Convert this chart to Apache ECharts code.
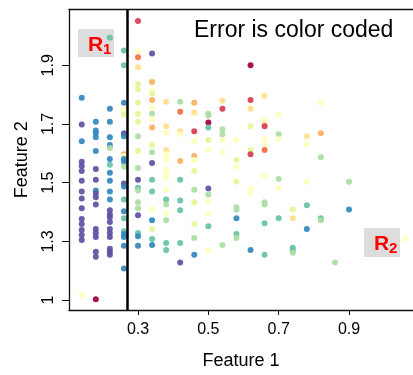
<!DOCTYPE html>
<html>
<head>
<meta charset="utf-8">
<script src="https://cdn.jsdelivr.net/npm/echarts@6/dist/echarts.min.js"></script>
<style>
  html, body { margin: 0; padding: 0; background: #fff; }
  #chart { width: 413px; height: 375px; }
</style>
</head>
<body>
<div id="chart"></div>
<script>
// Samples: Feature 1 (x), Feature 2 (y) and the error level (0 = lowest … 10 = highest)
const featureOne = [
  0.14,0.14,0.14,0.14,0.14,0.14,0.14,0.14,0.14,0.14,0.14,0.14,0.14,0.14,0.14,0.14,
  0.18,0.18,0.18,0.18,0.18,0.18,0.18,0.18,0.18,0.18,0.18,0.18,0.18,0.18,0.18,0.18,0.18,
  0.22,0.22,0.22,0.22,0.22,0.22,0.22,0.22,0.22,0.22,0.22,0.22,0.22,0.22,0.22,0.22,0.22,0.22,0.22,0.22,0.22,0.22,
  0.26,0.26,0.26,0.26,0.26,0.26,0.26,0.26,0.26,0.26,0.26,0.26,0.26,0.26,0.26,0.26,0.26,0.26,0.26,0.26,0.26,0.26,
  0.30,0.30,0.30,0.30,0.30,0.30,0.30,0.30,0.30,0.30,0.30,0.30,0.30,0.30,0.30,0.30,0.30,0.30,0.30,0.30,0.30,
  0.34,0.34,0.34,0.34,0.34,0.34,0.34,0.34,0.34,0.34,0.34,0.34,0.34,0.34,0.34,0.34,0.34,0.34,0.34,
  0.38,0.38,0.38,0.38,0.38,0.38,0.38,0.38,0.38,0.38,0.38,0.38,0.38,0.38,0.38,0.38,
  0.42,0.42,0.42,0.42,0.42,0.42,0.42,0.42,0.42,0.42,
  0.46,0.46,0.46,0.46,0.46,0.46,0.46,0.46,0.46,0.46,0.46,0.46,
  0.50,0.50,0.50,0.50,0.50,0.50,0.50,0.50,0.50,0.50,0.50,0.50,
  0.54,0.54,0.54,0.54,0.54,0.54,0.54,
  0.58,0.58,0.58,0.58,0.58,0.58,0.58,0.58,0.58,
  0.62,0.62,0.62,0.62,0.62,0.62,0.62,0.62,0.62,
  0.66,0.66,0.66,0.66,0.66,0.66,0.66,0.66,0.66,0.66,0.66,0.66,
  0.70,0.70,0.70,0.70,0.70,0.70,
  0.74,0.74,0.74,0.74,0.74,
  0.78,0.78,0.78,0.78,0.78,
  0.82,0.82,0.82,0.82,0.82,
  0.86,
  0.90,0.90,
  1.06
];
const featureTwo = [
  1.789,1.698,1.641,1.571,1.557,1.540,1.507,1.470,1.446,1.413,1.376,1.359,1.339,1.322,1.305,1.117,
  1.708,1.678,1.668,1.655,1.608,1.547,1.510,1.473,1.463,1.450,1.426,1.342,1.329,1.315,1.265,1.248,1.103,
  1.994,1.752,1.708,1.655,1.628,1.618,1.581,1.561,1.534,1.507,1.470,1.443,1.406,1.392,1.382,1.366,1.342,1.329,1.315,1.275,1.265,1.255,
  1.950,1.900,1.772,1.749,1.732,1.668,1.658,1.597,1.591,1.581,1.571,1.554,1.497,1.487,1.443,1.403,1.379,1.335,1.325,1.315,1.285,1.208,
  2.051,1.947,1.927,1.893,1.836,1.819,1.772,1.735,1.708,1.658,1.608,1.550,1.510,1.483,1.473,1.433,1.413,1.389,1.329,1.318,1.285,
  1.940,1.843,1.816,1.803,1.782,1.755,1.735,1.715,1.688,1.628,1.604,1.567,1.510,1.470,1.409,1.372,1.342,1.308,1.288,
  1.776,1.692,1.671,1.611,1.597,1.577,1.544,1.534,1.517,1.476,1.443,1.426,1.396,1.372,1.295,1.271,
  1.776,1.742,1.675,1.665,1.574,1.510,1.439,1.406,1.295,1.228,
  1.772,1.739,1.675,1.641,1.591,1.577,1.540,1.476,1.433,1.359,1.312,1.255,
  1.735,1.729,1.705,1.688,1.645,1.614,1.480,1.460,1.436,1.396,1.352,1.268,
  1.779,1.752,1.682,1.665,1.645,1.604,1.288,
  1.645,1.577,1.554,1.503,1.416,1.408,1.379,1.325,1.312,
  1.900,1.782,1.752,1.692,1.611,1.597,1.480,1.466,1.271,
  1.796,1.715,1.698,1.692,1.648,1.628,1.611,1.524,1.433,1.426,1.362,1.255,
  1.732,1.665,1.648,1.513,1.483,1.379,
  1.409,1.379,1.278,1.271,1.261,
  1.658,1.631,1.503,1.423,1.342,
  1.772,1.668,1.587,1.379,1.372,
  1.228,
  1.503,1.409,
  1.308
];
const errorLevel = [
  1,0,1,0,0,0,0,0,0,0,0,0,0,0,0,5,
  1,1,1,1,1,0,0,1,0,0,0,0,0,0,0,0,10,
  2,1,1,1,1,3,1,2,1,1,1,1,0,0,0,0,0,0,0,0,0,0,
  2,2,1,5,4,0,1,7,5,1,1,3,0,1,2,1,2,2,1,1,1,1,
  9,5,8,6,4,4,4,4,4,3,4,3,0,2,3,3,3,0,2,1,1,
  0,7,5,4,7,5,3,5,7,4,3,0,2,2,5,1,4,2,1,
  6,6,5,6,5,5,5,5,5,5,2,3,5,3,2,2,
  3,8,6,5,7,2,2,2,2,0,
  7,6,9,5,7,5,4,3,4,4,3,1,
  3,3,10,2,4,5,0,3,5,5,2,5,
  6,9,3,3,5,5,3,
  5,4,5,4,3,3,1,2,3,
  10,9,6,4,4,9,5,5,1,
  6,5,6,9,5,5,8,5,3,3,2,2,
  5,3,5,3,5,2,
  4,6,2,2,3,
  6,5,5,2,1,
  5,7,3,2,3,
  3,
  3,1,
  5
];

// Split threshold on Feature 1 separating regions R1 and R2
const splitPoint = 0.272;

// Axis ticks and their printed labels
const xTickValues = [0.3, 0.5, 0.7, 0.9];
const yTickValues = [1.1, 1.3, 1.5, 1.7, 1.9];
const yTickLabels = ['1', '1.3', '1.5', '1.7', '1.9'];

// Visible axis ranges
const xRange = [0.1038, 1.0819];
const yRange = [1.0664, 2.0899];

// Spectral palette, low error -> high error
const spectral = ['#5e4fa2','#3288bd','#66c2a5','#abdda4','#e6f598','#ffffbf',
                  '#fee08b','#fdae61','#f46d43','#d53e4f','#9e0142'];

const FONT = '"Liberation Sans", "DejaVu Sans", sans-serif';
const SPINE = { show: true, lineStyle: { color: '#111', width: 1.3 } };

const points = featureOne.map((x, i) => [x, featureTwo[i], errorLevel[i]]);

const chart = echarts.init(document.getElementById('chart'), null, { renderer: 'canvas' });

chart.setOption({
  animation: false,
  backgroundColor: '#ffffff',
  grid: { left: 69, right: 0, top: 9.5, bottom: 61 },
  xAxis: [{
    type: 'value',
    position: 'bottom',
    min: xRange[0], max: xRange[1],
    name: 'Feature 1',
    nameLocation: 'middle',
    nameGap: 42,
    nameTextStyle: { fontFamily: FONT, fontSize: 18, color: '#000' },
    axisLine: SPINE,
    axisTick: { show: true, length: 5, customValues: xTickValues, lineStyle: { color: '#111', width: 1 } },
    axisLabel: { customValues: xTickValues, margin: 12, fontFamily: FONT, fontSize: 16, color: '#000',
                 formatter: v => v.toFixed(1) },
    splitLine: { show: false }
  }, {
    // top spine only
    type: 'value',
    position: 'top',
    min: xRange[0], max: xRange[1],
    axisLine: SPINE,
    axisTick: { show: false },
    axisLabel: { show: false },
    splitLine: { show: false }
  }],
  yAxis: {
    type: 'value',
    min: yRange[0], max: yRange[1],
    name: 'Feature 2',
    nameLocation: 'middle',
    nameGap: 38,
    nameTextStyle: { fontFamily: FONT, fontSize: 18, color: '#000' },
    axisLine: SPINE,
    axisTick: { show: true, length: 7, customValues: yTickValues, lineStyle: { color: '#111', width: 1 } },
    axisLabel: { customValues: yTickValues, rotate: 90, margin: 12, fontFamily: FONT, fontSize: 16, color: '#000',
                 formatter: v => yTickLabels[yTickValues.findIndex(t => Math.abs(t - v) < 1e-6)] },
    splitLine: { show: false }
  },
  visualMap: {
    show: false,
    type: 'continuous',
    dimension: 2,
    min: 0, max: 10,
    seriesIndex: 0,
    inRange: { color: spectral }
  },
  series: [{
    type: 'scatter',
    xAxisIndex: 0,
    data: points,
    symbolSize: 6,
    itemStyle: { opacity: 0.92 },
    silent: true,
    markLine: {
      silent: true,
      symbol: ['none', 'none'],
      label: { show: false },
      lineStyle: { color: '#000', width: 2.5, type: 'solid' },
      data: [{ xAxis: splitPoint }]
    }
  }],
  graphic: [
    { type: 'text', x: 194, y: 31,
      style: { text: 'Error is color coded', fontFamily: FONT, fontSize: 23, fill: '#000',
               align: 'left', verticalAlign: 'middle' } },
    { type: 'rect', shape: { x: 78, y: 29, width: 36, height: 28 }, style: { fill: '#dddddd' } },
    { type: 'text', x: 88, y: 45,
      style: { text: 'R', fontFamily: FONT, fontSize: 21, fontWeight: 'bold', fill: '#ff0000',
               align: 'left', verticalAlign: 'middle' } },
    { type: 'text', x: 103, y: 50,
      style: { text: '1', fontFamily: FONT, fontSize: 15, fontWeight: 'bold', fill: '#ff0000',
               align: 'left', verticalAlign: 'middle' } },
    { type: 'rect', shape: { x: 364, y: 228, width: 36, height: 29 }, style: { fill: '#dddddd' } },
    { type: 'text', x: 374, y: 244,
      style: { text: 'R', fontFamily: FONT, fontSize: 21, fontWeight: 'bold', fill: '#ff0000',
               align: 'left', verticalAlign: 'middle' } },
    { type: 'text', x: 389, y: 249,
      style: { text: '2', fontFamily: FONT, fontSize: 15, fontWeight: 'bold', fill: '#ff0000',
               align: 'left', verticalAlign: 'middle' } }
  ]
});
</script>
</body>
</html>
